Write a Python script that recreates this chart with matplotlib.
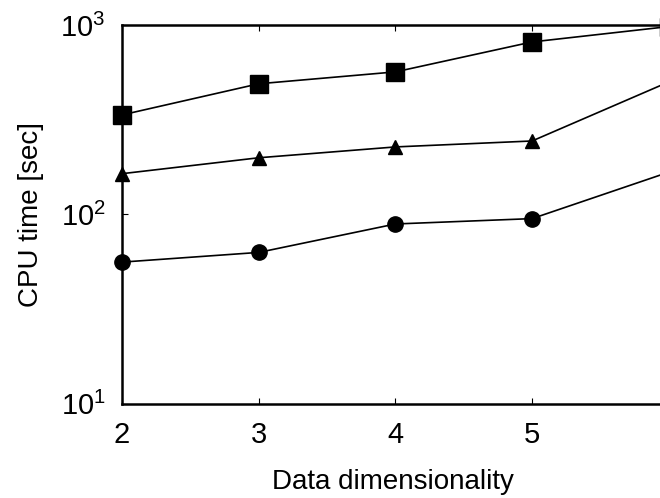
import matplotlib.pyplot as plt
import numpy as np

plt.rcParams['font.family'] = ['Liberation Sans', 'DejaVu Sans']

# data
dims = [2, 3, 4, 5, 6]
t_square = [335, 489, 565, 813, 980]
t_triangle = [164, 199, 227, 244, 500]
t_circle = [56, 63, 89, 95, 167]

fig = plt.figure(figsize=(6.6, 4.98), dpi=100)
ax = fig.add_axes([0.185, 0.189, 0.82, 0.761])

ax.plot(dims, t_square, color="black", lw=1.2, marker="s", ms=13, zorder=3)
ax.plot(dims, t_triangle, color="black", lw=1.2, marker="^", ms=10, zorder=3)
ax.plot(dims, t_circle, color="black", lw=1.2, marker="o", ms=11, zorder=3)
for ln in ax.lines:
    ln.set_clip_on(False)

ax.set_yscale("log")
ax.set_ylim(10, 1000)
ax.set_xlim(2, 5.96)
ax.set_xticks([2, 3, 4, 5])
ax.set_yticks([10, 100, 1000])
ax.minorticks_off()
ax.tick_params(direction="in", top=True, right=False, labelsize=21, length=4)
ax.tick_params(axis="x", pad=12)
ax.tick_params(axis="y", pad=12)
ax.spines["right"].set_visible(False)
for s in ["left", "bottom", "top"]:
    ax.spines[s].set_linewidth(1.8)

ax.set_xlabel("Data dimensionality", fontsize=20, labelpad=15)
ax.set_ylabel("CPU time [sec]", fontsize=20, labelpad=12)

fig.savefig("out.png", dpi=100)
